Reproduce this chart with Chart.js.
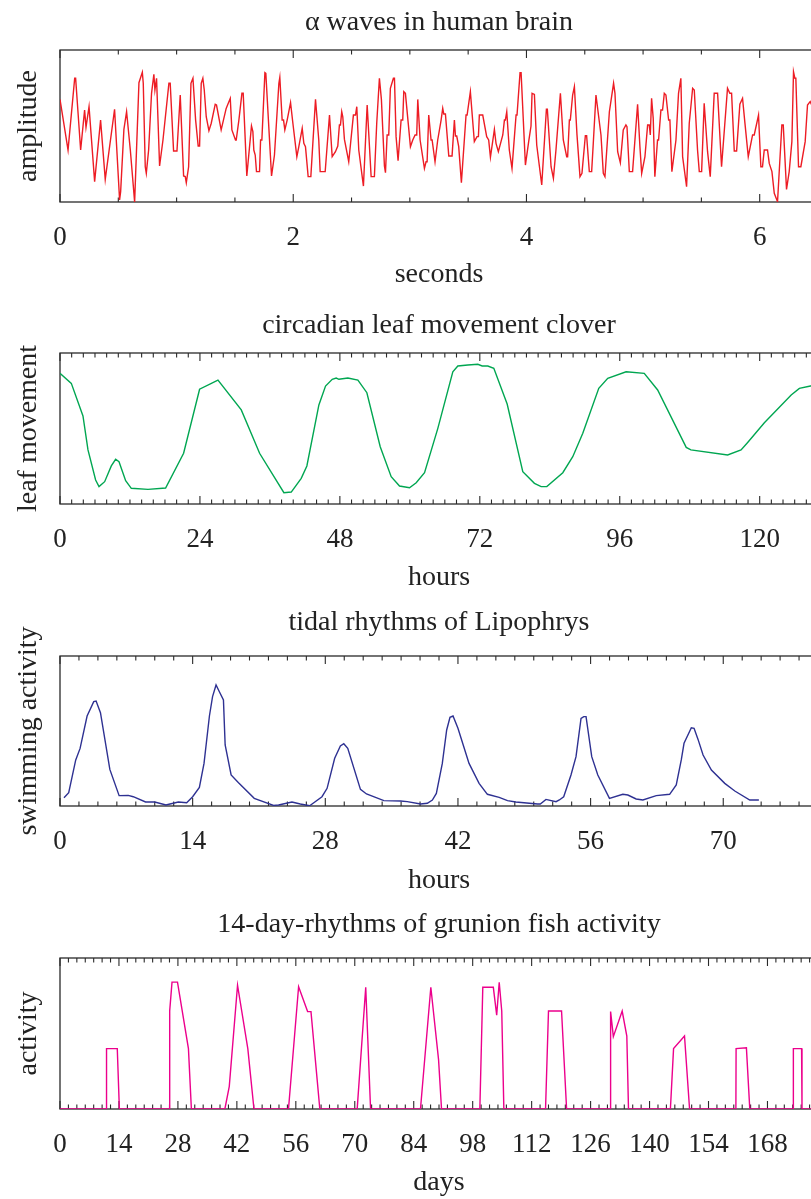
<!DOCTYPE html>
<html>
<head>
<meta charset="utf-8">
<script src="https://cdn.jsdelivr.net/npm/chart.js@4.4.1/dist/chart.umd.min.js"></script>
<style>
  html, body { margin: 0; padding: 0; background: #fff; }
  body { width: 811px; height: 1199px; overflow: hidden; position: relative; }
  canvas { position: absolute; left: 0; }
</style>
</head>
<body>
<canvas id="alpha" width="878" height="302" style="top:0px"></canvas>
<canvas id="clover" width="878" height="302" style="top:303px"></canvas>
<canvas id="tidal" width="878" height="302" style="top:606px"></canvas>
<canvas id="grunion" width="878" height="302" style="top:908px"></canvas>
<script>
// alpha waves (seconds, arbitrary amplitude)
const alphaTime = [
  0.000, 0.069, 0.126, 0.134, 0.177, 0.211, 0.223, 0.249, 0.297, 0.348,
  0.388, 0.468, 0.511, 0.520, 0.548, 0.571, 0.603, 0.640, 0.677, 0.706,
  0.714, 0.731, 0.740, 0.760, 0.785, 0.805, 0.814, 0.828, 0.854, 0.883,
  0.934, 0.945, 0.974, 1.003, 1.031, 1.060, 1.074, 1.083, 1.103, 1.123,
  1.140, 1.163, 1.185, 1.197, 1.211, 1.225, 1.237, 1.254, 1.277, 1.297,
  1.331, 1.342, 1.382, 1.425, 1.460, 1.474, 1.505, 1.511, 1.534, 1.560,
  1.571, 1.602, 1.642, 1.654, 1.662, 1.674, 1.685, 1.711, 1.720, 1.731,
  1.757, 1.765, 1.780, 1.814, 1.839, 1.877, 1.885, 1.905, 1.917, 1.928,
  1.948, 1.977, 1.997, 2.031, 2.048, 2.077, 2.091, 2.105, 2.128, 2.151,
  2.191, 2.219, 2.231, 2.274, 2.311, 2.334, 2.362, 2.382, 2.396, 2.405,
  2.416, 2.425, 2.439, 2.476, 2.516, 2.534, 2.545, 2.562, 2.602, 2.634,
  2.668, 2.696, 2.716, 2.739, 2.756, 2.782, 2.791, 2.805, 2.819, 2.833,
  2.859, 2.868, 2.882, 2.899,
  2.925, 2.939, 2.948, 2.962, 3.005, 3.025, 3.045, 3.059, 3.068, 3.088,
  3.125, 3.139, 3.148, 3.162, 3.182, 3.191, 3.216, 3.239, 3.268, 3.282,
  3.291, 3.305, 3.334, 3.362, 3.382, 3.391, 3.402, 3.419, 3.442, 3.482,
  3.491, 3.519, 3.553, 3.576, 3.588, 3.596, 3.625, 3.659, 3.676, 3.691,
  3.725, 3.739, 3.759, 3.797, 3.811, 3.819, 3.831, 3.853, 3.876, 3.911,
  3.919, 3.945, 3.954, 3.991, 4.019, 4.039, 4.048, 4.068, 4.088, 4.131,
  4.171, 4.179, 4.211, 4.231, 4.253, 4.291, 4.316, 4.345, 4.353, 4.368,
  4.376, 4.396, 4.411, 4.433, 4.459, 4.476, 4.505, 4.516, 4.539, 4.559,
  4.573, 4.596, 4.639, 4.659, 4.673, 4.711, 4.747, 4.759, 4.782, 4.805,
  4.830, 4.853, 4.862, 4.882, 4.910, 4.953, 4.973, 4.988, 5.016, 5.039,
  5.053, 5.062, 5.073, 5.087, 5.101, 5.124, 5.133, 5.153, 5.167, 5.182,
  5.196, 5.219, 5.230, 5.247, 5.282, 5.304, 5.324, 5.339, 5.373, 5.396,
  5.425, 5.439, 5.467, 5.482, 5.502, 5.524, 5.553, 5.576, 5.610, 5.639,
  5.673, 5.724, 5.744, 5.759, 5.782, 5.802, 5.830, 5.853, 5.873, 5.902,
  5.939, 5.953, 5.990, 6.010, 6.024, 6.039, 6.067, 6.082, 6.105, 6.125,
  6.153, 6.190, 6.202, 6.230, 6.253, 6.276, 6.290, 6.302, 6.310, 6.333,
  6.353, 6.390, 6.410, 6.433, 6.500
];
const alphaAmp = [
  17.5, -15.8, 31.4, 31.4, -15.8, 10.5, -0.9, 12.7, -36.6, 3.9,
  -35.1, 11, -48.7, -43.2, -2.2, 9.4, -15.8, -50, 28.5, 35.3,
  28.1, -26.8, -31.1, -15.8, 21.5, 34, 23.7, 31.4, -26.3, -9.2,
  28.1, 28.1, -16.4, -16.4, 20.4, -32.9, -33.3, -37.3, -26.8, 28.1,
  31.4, 3.9, -13.2, -13.2, 28.1, 31.4, 23.7, 6.1, -3.1, 1.8,
  14.3, 13.8, -2.6, 11.6, 18.2, -2.6, -9.2, -9.2, 3.9, 21.5,
  21.5, -32.9, 0, -3.7, -15.8, -19.1, -30, -30, -9.2, -9.2,
  35.1, 34.6, 13.8, -32.9, -19.1, 28.1, 32, 3.9, 3.9, -2.6,
  3.9, 15.4, 1.8, -20.2, -13.6, -1.5, -11.4, -13.6, -33.3, -33.3,
  17.5, -9.2, -30, -30, 7.2, -20.2, -16.9, -13.2, 0.7, 0.7,
  9.4, 6.1, -8.8, -23.5, 7.2, 7.2, 12.7, -15.8, -39.5, 13.8,
  -33.3, -33.3, 1.8, 31.4, 17.5, -26.3, -30.7, -5.9, -5.9, 24.8,
  31.4, 31.4, -7, -22.8,
  3.9, 3.9, 22.6, 21.5, -13.6, -9.2, -5.9, -5.9, 17.5, -9.2,
  -27.9, -23.5, -23.5, 7.2, -9.2, -9.2, -23.5, -9.2, 3.9, 11.6,
  7.9, 7.9, -19.7, -19.7, 3.9, -6.6, -6.6, -13.6, -37.3, 7.2,
  7.2, 22.6, -10.3, -7, -7, 7.2, 7.2, -7, -9.2, -20.6,
  -2.2, -11.4, -16.9, -5.9, 3.9, 3.9, 9.4, -15.8, -27.9, 7.2,
  7.2, 35.1, 35.1, -25.7, -10.3, 0, 21.5, 20.8, -12.5, -38.8,
  11, 11, -26.8, -34.4, -15.8, 21.5, -9.2, -20.2, -20.2, 3.9,
  3.9, 20.4, 25.9, -5.5, -33.3, -31.1, -6.4, -6.4, -30, -30,
  -11.4, 20.4, -5.9, -31.1, -33.3, 9.4, 28.1, 21.5, -16.9, -24.1,
  -2.6, 0.7, -0.4, -30, -30, 14.3, -13.6, -31.1, -20.2, 0.7,
  0.7, -5.9, 18.2, 5, -33.3, -9.2, -9.2, 10.5, 10.5, 21.5,
  20.4, 3.9, 3.9, -30, -9.2, 21.5, 31.4, -20.2, -39.9, 1.8,
  24.8, 23.7, -15.8, -30, -30, 14.9, -16.9, -33.3, 21.5, 21.5,
  -26.8, 24.8, 21.5, 21.5, -16.4, -16.4, 14.3, 18.2, 2.2, -20.2,
  -5.9, -5.9, 7.2, -26.8, -26.8, -15.8, -15.8, -24.6, -30, -44.3,
  -49.8, 0.7, 0.7, -41.7, -30, -10.3, 35.7, 31.4, 31.4, -26.8,
  -26.8, -10.3, 13.8, 16, 5
];

// circadian leaf movement (hours)
const cloverHours = [
  0, 1.94, 3.94, 4.8, 6.11, 6.69, 7.66, 8.8, 9.54, 10.12,
  11.26, 12.23, 15.09, 18.11, 21.2, 23.94, 27.09, 31.09, 34.23, 38.4,
  39.66, 41.37, 42.34, 44.4, 45.54, 46.69, 47.37, 47.83, 49.37, 51.09,
  52.63, 54.92, 56.8, 58.23, 59.94, 61.09, 62.52, 64.8, 67.37, 68.23,
  69.94, 71.66, 72.4, 73.37, 74.4, 76.69, 79.37, 81.37, 82.52, 83.49,
  86.23, 87.94, 89.66, 92.4, 93.94, 97.09, 100.2, 102.5, 107.4, 108.2,
  114.5, 116.8, 117.9, 120.8, 125.4, 126.8, 128.7, 130
];
const cloverMove = [
  86.5, 79.9, 58.3, 35.8, 15.9, 11.5, 14.8, 25.2, 29.6, 28,
  15.4, 10.4, 9.7, 10.6, 33.6, 76, 82.1, 62.3, 33.6, 7.5,
  7.9, 17, 25.2, 65.6, 78.1, 82.6, 83.4, 82.6, 83.4, 82.1,
  73.7, 37.9, 18.1, 11.9, 10.8, 14.1, 20.7, 50.1, 87.6, 91.4,
  92.1, 92.5, 91.4, 91.4, 89.9, 66.2, 21.4, 13.7, 11.5, 11.5,
  20.7, 31.3, 46.8, 76.6, 83.2, 87.6, 86.5, 75.5, 37.5, 35.8,
  32.5, 35.8, 40.6, 53.8, 72.2, 76.6, 78.1, 78.5
];

// tidal rhythms of Lipophrys (hours)
const tidalHours = [
  0.42, 0.92, 1.66, 2.12, 2.86, 3.56, 3.81, 4.27, 5.26, 6.24,
  7.2, 7.73, 9.03, 10.0, 11.18, 12.49, 13.37, 14.0, 14.71, 15.2,
  15.77, 16.1, 16.47, 16.82, 17.25, 17.43, 18.06, 18.84, 20.5, 22.54,
  23.07, 24.48, 25.36, 26.35, 27.65, 28.19, 28.99, 29.59, 29.95, 30.37,
  31.71, 32.35, 34.18, 35.94, 36.65, 38.06, 38.77, 39.3, 39.72, 40.35,
  40.81, 41.16, 41.48, 42.0, 43.17, 44.23, 45.11, 46.35, 47.23, 48.11,
  50.4, 50.69, 51.29, 52.35, 52.7, 53.16, 53.93, 54.46, 54.99, 55.28,
  55.52, 56.12, 56.76, 57.99, 59.4, 59.93, 60.81, 61.52, 62.93, 64.34,
  65.04, 65.57, 65.86, 66.63, 66.92, 67.34, 67.87, 68.75, 70.16, 71.22,
  72.8, 73.76
];
const tidalSwim = [
  5.5, 8.9, 30.7, 38.4, 60, 69.6, 70, 62.2, 24.4, 6.9,
  7.1, 6.2, 2.7, 2.7, 0.7, 2.7, 2.2, 6.2, 12.4, 28.4,
  60, 72.9, 80.7, 76.2, 70.7, 40.7, 20.7, 15.5, 5.1, 0.4,
  0.7, 2.7, 1.3, 0.2, 6.2, 11.8, 31.8, 40, 41.5, 38.4,
  11.1, 8, 3.6, 3.3, 2.9, 1.3, 1.8, 4, 8.4, 28.4,
  50.7, 59.1, 60, 51.8, 28.4, 15.1, 7.8, 5.8, 3.6, 2.7,
  1.3, 1.3, 4.4, 2.9, 4, 6.2, 20.7, 32.9, 58.4, 59.6,
  59.6, 32.9, 20.7, 5.1, 7.8, 7.3, 4.7, 4, 6.9, 7.8,
  14, 30.7, 41.8, 52.2, 51.8, 44.4, 34, 24, 15.1, 10,
  4, 4
];

// 14-day rhythm of grunion (days)
const grunionDays = [
  0, 11, 11.05, 13.6, 14.1, 26, 26.05, 26.6, 27.9, 30.5,
  31.2, 39.15, 40.2, 42.16, 44.6, 46.06, 54.26, 56.66, 58.8, 59.6,
  61.7, 70.57, 72.6, 73.75, 85.6, 88.06, 89.9, 90.6, 99.7, 100.4,
  102.9, 103.7, 104.3, 104.9, 105.4, 115.3, 116, 119.1, 120.3, 130.7,
  130.75, 131.4, 133.5, 134.6, 135, 144.95, 145.7, 148.3, 149.5, 160.5,
  160.55, 163, 163.8, 174.1, 174.15, 176.1, 176.2, 180
];
const grunionActivity = [
  0, 0, 40, 40, 0, 0, 65, 84, 84, 40,
  0, 0, 15, 82, 40, 0, 0, 81, 64.5, 64.5,
  0, 0, 80.6, 0, 0, 80.6, 32.5, 0, 0, 80.6,
  80.6, 62.2, 83.9, 64.9, 0, 0, 64.9, 64.9, 0, 0,
  64.5, 47.9, 64.9, 48.3, 0, 0, 40, 48.3, 0, 0,
  40, 40.5, 0, 0, 40, 40, 0, 0
];

const RED = '#ed1c24';
const GREEN = '#00a651';
const BLUE = '#2e3192';
const MAGENTA = '#ec008c';
const INK = '#222';

Chart.defaults.font.family = "'Liberation Serif', 'Times New Roman', serif";
Chart.defaults.color = INK;

const isMajor = (v, major) => Math.abs(v / major - Math.round(v / major)) < 1e-6;

//box + inward ticks (matlab style)
const frameTicks = {
  id: 'frameTicks',
  beforeDatasetsDraw(chart, args, opts) {
    const { ctx, chartArea: a, scales: { x } } = chart;
    ctx.save();
    ctx.strokeStyle = '#2a2a2a';
    ctx.lineWidth = 1.3;
    ctx.strokeRect(a.left, a.top, a.right - a.left, a.bottom - a.top);
    ctx.lineWidth = 1.1;
    ctx.beginPath();
    x.ticks.forEach(t => {
      const px = x.getPixelForValue(t.value);
      const len = isMajor(t.value, opts.major) ? 8 : 4.5;
      ctx.moveTo(px, a.top);
      ctx.lineTo(px, a.top + len);
      ctx.moveTo(px, a.bottom);
      ctx.lineTo(px, a.bottom - len);
    });
    ctx.stroke();
    ctx.restore();
  }
};

function makePanel(id, cfg) {
  const points = cfg.xs.map((v, i) => ({ x: v, y: cfg.ys[i] }));
  return new Chart(document.getElementById(id), {
    type: 'line',
    data: {
      datasets: [{
        data: points,
        borderColor: cfg.color,
        borderWidth: 1.4,
        pointRadius: 0,
        tension: 0,
        fill: false,
      }]
    },
    plugins: [frameTicks],
    options: {
      responsive: false,
      animation: false,
      layout: { padding: 0 },
      plugins: {
        legend: { display: false },
        tooltip: { enabled: false },
        frameTicks: { major: cfg.major },
        title: {
          display: true,
          text: cfg.title,
          color: INK,
          font: { size: 28, weight: 'normal', lineHeight: 1.2 },
          padding: { top: cfg.titleTop, bottom: 16.4 - cfg.titleTop }
        }
      },
      scales: {
        x: {
          type: 'linear',
          min: cfg.min,
          max: cfg.max,
          grid: { display: false, drawTicks: false },
          border: { display: false },
          afterFit: s => { s.height = cfg.axisHeight; },
          ticks: {
            stepSize: cfg.step,
            maxTicksLimit: 1000,
            autoSkip: false,
            maxRotation: 0,
            padding: 20,
            color: INK,
            font: { size: 27 },
            callback: v => isMajor(v, cfg.major) ? String(Math.round(v)) : ''
          },
          title: {
            display: true,
            text: cfg.xLabel,
            color: INK,
            font: { size: 28, lineHeight: 1.2 },
            padding: { top: 0, bottom: 11 }
          }
        },
        y: {
          min: cfg.yMin,
          max: cfg.yMax,
          grid: { display: false, drawTicks: false },
          border: { display: false },
          ticks: { display: false },
          afterFit: s => { s.width = 60; },
          title: {
            display: true,
            text: cfg.yLabel,
            color: INK,
            font: { size: 28, lineHeight: 1.2 },
            padding: { top: 12, bottom: 0 }
          }
        },
        // empty right margin so the title centres over the axes
        yRight: {
          position: 'right',
          display: true,
          min: 0,
          max: 1,
          grid: { display: false, drawTicks: false },
          border: { display: false },
          ticks: { display: false },
          afterFit: s => { s.width = 60; }
        }
      }
    }
  });
}

makePanel('alpha', {
  xs: alphaTime, ys: alphaAmp, color: RED,
  title: 'α waves in human brain', xLabel: 'seconds', yLabel: 'amplitude',
  min: 0, max: 6.5, step: 0.5, major: 2, yMin: -50, yMax: 50, axisHeight: 100, titleTop: 6
});
makePanel('clover', {
  xs: cloverHours, ys: cloverMove, color: GREEN,
  title: 'circadian leaf movement clover', xLabel: 'hours', yLabel: 'leaf movement',
  min: 0, max: 130, step: 2, major: 24, yMin: 0, yMax: 100, axisHeight: 101, titleTop: 6
});
makePanel('tidal', {
  xs: tidalHours, ys: tidalSwim, color: BLUE,
  title: 'tidal rhythms of Lipophrys', xLabel: 'hours', yLabel: 'swimming activity',
  min: 0, max: 80, step: 2, major: 14, yMin: 0, yMax: 100, axisHeight: 102, titleTop: 0
});
makePanel('grunion', {
  xs: grunionDays, ys: grunionActivity, color: MAGENTA,
  title: '14-day-rhythms of grunion fish activity', xLabel: 'days', yLabel: 'activity',
  min: 0, max: 180, step: 2, major: 14, yMin: 0, yMax: 100, axisHeight: 101, titleTop: 0
});
</script>
</body>
</html>
